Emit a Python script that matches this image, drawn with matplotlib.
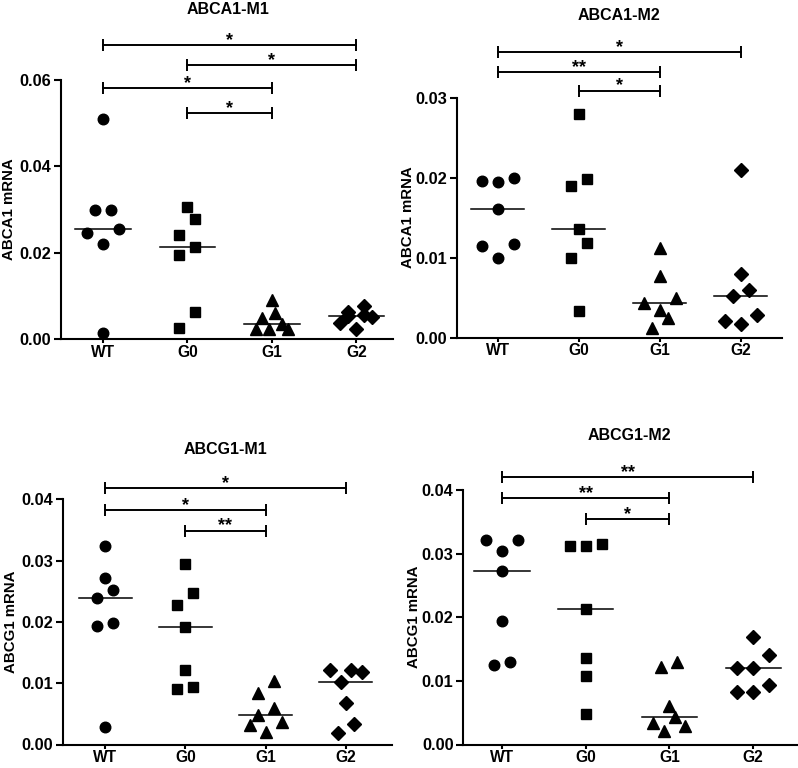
import numpy as np
import matplotlib
matplotlib.use("Agg")
import matplotlib.pyplot as plt

plt.rcParams["font.family"] = ["Liberation Sans", "DejaVu Sans"]
plt.rcParams["font.weight"] = "bold"

groups = ["WT", "G0", "G1", "G2"]
titles = ["ABCA1-M1", "ABCA1-M2", "ABCG1-M1", "ABCG1-M2"]
ylabels = ["ABCA1 mRNA", "ABCA1 mRNA", "ABCG1 mRNA", "ABCG1 mRNA"]

# ---- data ----
a1m1_wt = [0.0510, 0.0300, 0.0300, 0.0255, 0.0246, 0.0220, 0.0014]
a1m1_g0 = [0.0306, 0.0277, 0.0241, 0.0213, 0.0194, 0.0062, 0.0026]
a1m1_g1 = [0.0091, 0.0060, 0.0048, 0.0035, 0.0023, 0.0023, 0.0023]
a1m1_g2 = [0.0077, 0.0062, 0.0056, 0.0053, 0.0050, 0.0038, 0.0024]

a1m2_wt = [0.0200, 0.0196, 0.0194, 0.0161, 0.0117, 0.0115, 0.0099]
a1m2_g0 = [0.0280, 0.0198, 0.0190, 0.0136, 0.0118, 0.0099, 0.0033]
a1m2_g1 = [0.0112, 0.0077, 0.0050, 0.0043, 0.0035, 0.0025, 0.0012]
a1m2_g2 = [0.0209, 0.0080, 0.0060, 0.0052, 0.0028, 0.0021, 0.0017]

g1m1_wt = [0.0324, 0.0271, 0.0252, 0.0239, 0.0198, 0.0193, 0.0028]
g1m1_g0 = [0.0294, 0.0247, 0.0227, 0.0192, 0.0121, 0.0094, 0.0091]
g1m1_g1 = [0.0104, 0.0084, 0.0060, 0.0048, 0.0036, 0.0031, 0.0020]
g1m1_g2 = [0.0121, 0.0121, 0.0119, 0.0102, 0.0067, 0.0033, 0.0018]

g1m2_wt = [0.0321, 0.0321, 0.0304, 0.0272, 0.0194, 0.0130, 0.0125]
g1m2_g0 = [0.0315, 0.0312, 0.0312, 0.0213, 0.0136, 0.0107, 0.0048]
g1m2_g1 = [0.0129, 0.0122, 0.0060, 0.0044, 0.0034, 0.0029, 0.0021]
g1m2_g2 = [0.0169, 0.0140, 0.0121, 0.0121, 0.0093, 0.0082, 0.0082]

# significance brackets: pairs of group indices, labels, bracket levels
a1m1_sig_pairs = [(0, 3), (1, 3), (0, 2), (1, 2)]
a1m1_sig_labels = ["*", "*", "*", "*"]
a1m1_sig_levels = [0.0681, 0.0635, 0.0581, 0.0523]

a1m2_sig_pairs = [(0, 3), (0, 2), (1, 2)]
a1m2_sig_labels = ["*", "**", "*"]
a1m2_sig_levels = [0.0357, 0.0332, 0.0309]

g1m1_sig_pairs = [(0, 3), (0, 2), (1, 2)]
g1m1_sig_labels = ["*", "*", "**"]
g1m1_sig_levels = [0.0418, 0.0383, 0.0349]

g1m2_sig_pairs = [(0, 3), (0, 2), (1, 2)]
g1m2_sig_labels = ["**", "**", "*"]
g1m2_sig_levels = [0.0421, 0.0388, 0.0355]

panels_data = [
    [a1m1_wt, a1m1_g0, a1m1_g1, a1m1_g2],
    [a1m2_wt, a1m2_g0, a1m2_g1, a1m2_g2],
    [g1m1_wt, g1m1_g0, g1m1_g1, g1m1_g2],
    [g1m2_wt, g1m2_g0, g1m2_g1, g1m2_g2],
]
panels_sig = [
    (a1m1_sig_pairs, a1m1_sig_labels, a1m1_sig_levels),
    (a1m2_sig_pairs, a1m2_sig_labels, a1m2_sig_levels),
    (g1m1_sig_pairs, g1m1_sig_labels, g1m1_sig_levels),
    (g1m2_sig_pairs, g1m2_sig_labels, g1m2_sig_levels),
]

# ---- layout / style ----
W, H = 798, 768
layouts = [
    dict(box=(61, 80, 393, 339), xlim=(-0.497, 3.432), ylim=(0, 0.06), ystep=0.02,
         title_xy=(228, 9), ylabel_x=9),
    dict(box=(457, 97.7, 782, 337.5), xlim=(-0.502, 3.51), ylim=(0, 0.03), ystep=0.01,
         title_xy=(619, 16), ylabel_x=408),
    dict(box=(62.7, 499.3, 392, 744.5), xlim=(-0.527, 3.574), ylim=(0, 0.04), ystep=0.01,
         title_xy=(225.5, 449), ylabel_x=11),
    dict(box=(463.3, 490, 797, 744.5), xlim=(-0.462, 3.524), ylim=(0, 0.04), ystep=0.01,
         title_xy=(629, 436), ylabel_x=414),
]
markers = ["o", "s", "^", "D"]
marker_sizes = [7.6, 7.2, 8.0, 6.8]


def slot_order(n):
    c = (n - 1) / 2.0
    pos = [i - c for i in range(n)]
    if n % 2:
        rest = sorted([p for p in pos if p != 0], key=lambda p: (-abs(p), p))
        return [0.0] + rest
    rest = sorted([p for p in pos if p != -0.5], key=lambda p: (-abs(p), -p))
    return [-0.5] + rest


def swarm_offsets(ax, vals, xlim, row_px=16.0, step_px=16.0, span_px=32.0):
    vals = np.asarray(vals, float)
    ypx = ax.transData.transform(np.column_stack([np.zeros_like(vals), vals]))[:, 1]
    order = np.argsort(vals, kind="stable")
    rows, cur = [], [order[0]]
    for idx in order[1:]:
        if abs(ypx[idx] - ypx[cur[0]]) < row_px:
            cur.append(idx)
        else:
            rows.append(cur)
            cur = [idx]
    rows.append(cur)
    px_per_unit = ax.bbox.width / (xlim[1] - xlim[0])
    offs = np.zeros(len(vals))
    for row in rows:
        n = len(row)
        s = step_px if n <= 3 else span_px / (n - 1)
        for idx, k in zip(row, slot_order(n)):
            offs[idx] = k * s / px_per_unit
    return offs


fig = plt.figure(figsize=(W / 100, H / 100), dpi=100)

for p in range(4):
    lay = layouts[p]
    l, t, r, b = lay["box"]
    ax = fig.add_axes([l / W, 1 - b / H, (r - l) / W, (b - t) / H])
    ax.set_xlim(*lay["xlim"])
    ax.set_ylim(*lay["ylim"])
    for s in ["top", "right"]:
        ax.spines[s].set_visible(False)
    for s in ["left", "bottom"]:
        ax.spines[s].set_linewidth(1.5)
    yt = np.arange(lay["ylim"][0], lay["ylim"][1] + 1e-9, lay["ystep"])
    ax.set_yticks(yt)
    ax.set_yticklabels([f"{v:.2f}" for v in yt])
    ax.set_xticks(range(len(groups)))
    ax.set_xticklabels(groups)
    ax.tick_params(axis="y", direction="out", length=5, width=1.5, labelsize=11.8, pad=2)
    ax.tick_params(axis="x", direction="out", length=3, width=1.5, labelsize=11.2, pad=1)
    for lab in ax.get_xticklabels() + ax.get_yticklabels():
        lab.set_fontweight("bold")

    for gi, vals in enumerate(panels_data[p]):
        offs = swarm_offsets(ax, vals, lay["xlim"])
        ax.plot(gi + offs, vals, linestyle="none", marker=markers[gi],
                ms=marker_sizes[gi], color="black", mec="black", clip_on=False, zorder=3)
        med = np.median(vals)
        ax.plot([gi - 0.33, gi + 0.33], [med, med], color="black", lw=1.1, zorder=4)

    pairs, labels, levels = panels_sig[p]
    for (i, j), lab, lev in zip(pairs, labels, levels):
        ax.plot([i, j], [lev, lev], color="black", lw=1.4, marker="|", ms=8.6,
                mew=1.4, clip_on=False)
        ax.text((i + j) / 2, lev, lab, ha="center", va="baseline", fontsize=13,
                fontweight="bold", clip_on=False)

    ax.set_ylabel(ylabels[p], fontsize=10.8, fontweight="bold")
    ax.yaxis.label.set_verticalalignment("center")
    ax.yaxis.set_label_coords((lay["ylabel_x"] - l) / (r - l), 0.5)

    tx, ty = lay["title_xy"]
    fig.text(tx / W, 1 - ty / H, titles[p], ha="center", va="center",
             fontsize=11.5, fontweight="bold")

fig.savefig("out.png", dpi=100)
